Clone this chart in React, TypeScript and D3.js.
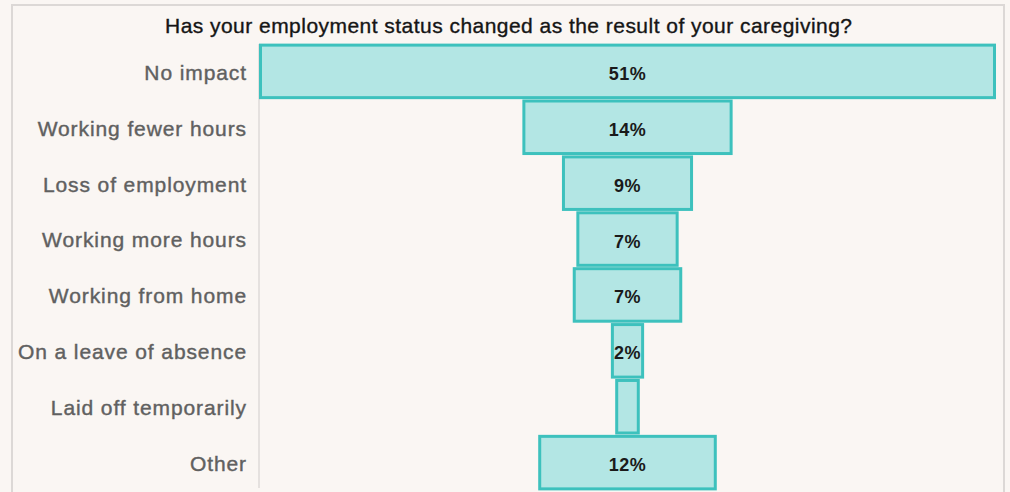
import React from "react";
import * as d3 from "d3";

const categories = [
  "No impact",
  "Working fewer hours",
  "Loss of employment",
  "Working more hours",
  "Working from home",
  "On a leave of absence",
  "Laid off temporarily",
  "Other",
];
const values = [51, 14.4, 8.9, 6.9, 7.4, 2.1, 1.5, 12.2];
const valueLabels = ["51%", "14%", "9%", "7%", "7%", "2%", "", "12%"];
const title = "Has your employment status changed as the result of your caregiving?";

const W = 1010;
const H = 492;
const axisX = 259;
const plotRight = 996;
const cx = (axisX + plotRight) / 2;
const FONT = "Liberation Sans, Arial, sans-serif";

export default function App() {
  const wScale = d3.scaleLinear().domain([0, 51]).range([0, plotRight - axisX - 3]);
  const y = d3
    .scaleBand<string>()
    .domain(categories)
    .range([44, 490])
    .paddingInner(0.06)
    .paddingOuter(0.02);

  return (
    <svg
      width={W}
      height={H}
      style={{ position: "absolute", left: 0, top: 0, background: "#faf6f3" }}
    >
      <rect x={0} y={0} width={W} height={H} fill="#faf6f3" />
      <rect x={12} y={5} width={992} height={500} fill="#faf6f3" stroke="#dcd8d6" strokeWidth={2} />
      <text
        x={508.5}
        y={33}
        textAnchor="middle"
        fontFamily={FONT}
        fontSize={21}
        textLength={687}
        lengthAdjust="spacing"
        fill="#151515"
        stroke="#151515"
        strokeWidth={0.35}
      >
        {title}
      </text>
      <line x1={axisX} x2={axisX} y1={44} y2={488} stroke="#dedad8" strokeWidth={1.5} />
      {categories.map((c, i) => {
        const w = wScale(values[i]);
        const by = y(c)!;
        const bh = y.bandwidth();
        return (
          <g key={c}>
            <rect
              x={cx - w / 2}
              y={by}
              width={w}
              height={bh}
              fill="#b3e6e4"
              stroke="#3dc1bd"
              strokeWidth={3}
            />
            <text
              x={247}
              y={by + bh / 2}
              dy="0.4em"
              textAnchor="end"
              fontFamily={FONT}
              fontSize={21}
              letterSpacing={0.9}
              fill="#606060"
              stroke="#606060"
              strokeWidth={0.4}
            >
              {c}
            </text>
            {valueLabels[i] && (
              <text
                x={cx}
                y={by + bh / 2}
                dy="0.47em"
                textAnchor="middle"
                fontFamily={FONT}
                fontSize={18}
                fontWeight="bold"
                letterSpacing={0.5}
                fill="#1a1a1a"
              >
                {valueLabels[i]}
              </text>
            )}
          </g>
        );
      })}
    </svg>
  );
}
